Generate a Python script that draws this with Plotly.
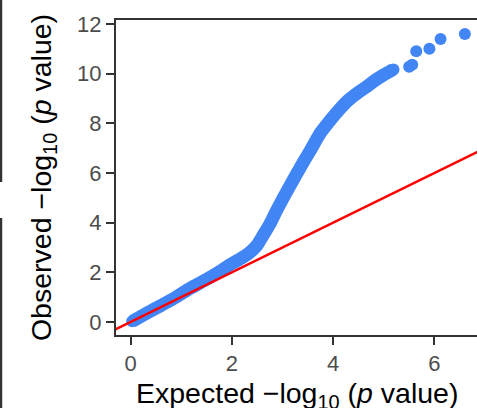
import plotly.graph_objects as go

# Dense part of the QQ curve (expected vs observed -log10 p)
band_expected = [0.03, 0.30, 0.60, 0.90, 1.17, 1.45, 1.72, 1.96, 2.20, 2.35, 2.49,
                 2.62, 2.75, 2.88, 3.02, 3.15, 3.28, 3.42, 3.56, 3.75, 3.94, 4.12,
                 4.30, 4.48, 4.66, 4.82, 4.99, 5.19]
band_observed = [0.02, 0.33, 0.66, 1.00, 1.35, 1.66, 1.98, 2.30, 2.58, 2.79, 3.07,
                 3.50, 3.95, 4.48, 5.02, 5.50, 5.97, 6.47, 6.95, 7.62, 8.12, 8.55,
                 8.93, 9.22, 9.47, 9.72, 9.94, 10.17]

# Isolated top points
top_expected = [5.50, 5.56, 5.64, 5.90, 6.12, 6.60]
top_observed = [10.28, 10.36, 10.90, 11.00, 11.39, 11.60]

# Identity reference line y = x
diag_x = [-1, 8]
diag_y = [-1, 8]

x_ticks = [0, 2, 4, 6]
y_ticks = [0, 2, 4, 6, 8, 10, 12]

BLUE = "#4285F4"
FONT = "Liberation Sans, Arial, sans-serif"

fig = go.Figure()
fig.add_trace(go.Scatter(
    x=band_expected, y=band_observed, mode="lines+markers",
    line=dict(color=BLUE, width=13, shape="spline", smoothing=0.6),
    marker=dict(color=BLUE, size=12, line=dict(width=0)),
    hoverinfo="skip", showlegend=False))
fig.add_trace(go.Scatter(
    x=top_expected, y=top_observed, mode="markers",
    marker=dict(color=BLUE, size=12, line=dict(width=0)),
    showlegend=False))
fig.add_trace(go.Scatter(
    x=diag_x, y=diag_y, mode="lines",
    line=dict(color="#FF0000", width=2.5),
    showlegend=False))

axis_common = dict(
    showgrid=False, zeroline=False, showline=True, linecolor="#333333",
    linewidth=2, ticks="outside", ticklen=8, tickwidth=2, tickcolor="#333333",
    automargin=False,
    tickfont=dict(family=FONT, size=22, color="#4D4D4D"),
)

fig.update_layout(
    width=477, height=408,
    margin=dict(l=116, r=0, t=20, b=73),
    paper_bgcolor="white", plot_bgcolor="white",
    font=dict(family=FONT),
    xaxis=dict(range=[-0.29, 6.84], tickvals=x_ticks, mirror=True, **axis_common),
    yaxis=dict(range=[-0.53, 12.16], tickvals=y_ticks,
               title=dict(text="Observed \u2212log<sub>10</sub> (<i>p</i> value)",
                          font=dict(size=28.5, color="black"), standoff=17),
               **axis_common),
    annotations=[
        dict(text="Expected \u2212log<sub>10</sub> (<i>p</i> value)",
             xref="paper", yref="paper", x=0.5, y=-0.128,
             xanchor="center", yanchor="top", showarrow=False,
             font=dict(family=FONT, size=28.5, color="black")),
    ],
    shapes=[
        dict(type="line", xref="paper", yref="paper", x0=-0.3186, x1=-0.3186,
             y0=1.07, y1=0.4857, line=dict(color="#333333", width=2.5)),
        dict(type="line", xref="paper", yref="paper", x0=-0.3186, x1=-0.3186,
             y0=0.3714, y1=-0.24, line=dict(color="#333333", width=2.5)),
    ],
)

fig.write_html(
    "out.html",
    config={"displayModeBar": False},
    post_script="document.body.style.margin='0';document.body.style.overflow='hidden';",
)
